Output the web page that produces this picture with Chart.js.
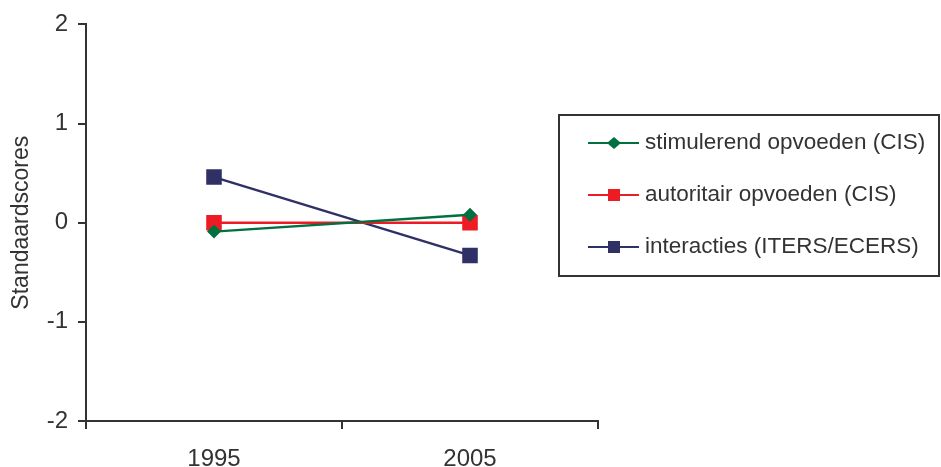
<!DOCTYPE html>
<html>
<head>
<meta charset="utf-8">
<script src="https://cdn.jsdelivr.net/npm/chart.js@4/dist/chart.umd.min.js"></script>
<style>
    html, body { margin: 0; padding: 0; background: #fff; }
    #wrap { width: 941px; height: 467px; position: relative; }
</style>
</head>
<body>
<div id="wrap"><canvas id="chart" width="941" height="467"></canvas></div>
<script>
// Standaardscores per jaar
const years = ['1995', '2005'];
const stimulerend = [-0.09, 0.08];
const autoritair = [0.0, 0.0];
const interacties = [0.46, -0.33];
const seriesLabels = ['stimulerend opvoeden (CIS)', 'autoritair opvoeden (CIS)', 'interacties (ITERS/ECERS)'];
const yTicks = [-2, -1, 0, 1, 2];

const AXIS_COLOR = '#333333';
const TEXT_COLOR = '#333333';
const FONT = '"Liberation Sans", Arial, Helvetica, sans-serif';

// boxed legend drawn at the right, outside the plot area
const boxLegend = {
    id: 'boxLegend',
    afterDraw(chart) {
        const ctx = chart.ctx;
        const box = { x: 559, y: 115, w: 380, h: 161 };
        ctx.save();
        ctx.strokeStyle = AXIS_COLOR;
        ctx.lineWidth = 2;
        ctx.strokeRect(box.x, box.y, box.w, box.h);
        ctx.font = '22.5px ' + FONT;
        ctx.textBaseline = 'middle';
        chart.data.datasets.forEach((ds, i) => {
            const y = 143 + i * 52;
            ctx.strokeStyle = ds.borderColor;
            ctx.lineWidth = 2;
            ctx.beginPath();
            ctx.moveTo(588, y);
            ctx.lineTo(639, y);
            ctx.stroke();
            ctx.fillStyle = ds.backgroundColor;
            ctx.beginPath();
            if (ds.pointStyle === 'rectRot') {
                ctx.moveTo(614, y - 6);
                ctx.lineTo(621, y);
                ctx.lineTo(614, y + 6);
                ctx.lineTo(607, y);
                ctx.closePath();
            } else {
                ctx.rect(608, y - 6, 12, 12);
            }
            ctx.fill();
            ctx.fillStyle = TEXT_COLOR;
            ctx.fillText(ds.label, 645, y);
        });
        ctx.restore();
    }
};

ready(() => {
    const ctx = document.getElementById('chart').getContext('2d');
    new Chart(ctx, {
        type: 'line',
        data: {
            labels: years,
            datasets: [
                {
                    label: seriesLabels[0],
                    data: stimulerend,
                    borderColor: '#007040',
                    backgroundColor: '#007040',
                    borderWidth: 2.5,
                    pointStyle: 'rectRot',
                    pointRadius: 7,
                    pointBorderWidth: 0
                },
                {
                    label: seriesLabels[1],
                    data: autoritair,
                    borderColor: '#ed1c24',
                    backgroundColor: '#ed1c24',
                    borderWidth: 2.5,
                    pointStyle: 'rect',
                    pointRadius: 11,
                    pointBorderWidth: 0
                },
                {
                    label: seriesLabels[2],
                    data: interacties,
                    borderColor: '#2f3066',
                    backgroundColor: '#2f3066',
                    borderWidth: 2.5,
                    pointStyle: 'rect',
                    pointRadius: 11,
                    pointBorderWidth: 0
                }
            ]
        },
        options: {
            responsive: false,
            animation: false,
            layout: { padding: { left: 0, top: 24, right: 343, bottom: 0 } },
            plugins: {
                legend: { display: false },
                tooltip: { enabled: false }
            },
            scales: {
                x: {
                    offset: true,
                    grid: {
                        offset: true,
                        drawOnChartArea: false,
                        drawTicks: true,
                        tickLength: 8,
                        color: AXIS_COLOR,
                        lineWidth: 2
                    },
                    border: { color: AXIS_COLOR, width: 2 },
                    ticks: {
                        color: TEXT_COLOR,
                        font: { family: FONT, size: 24 },
                        padding: 16,
                        maxRotation: 0
                    },
                    afterFit(scale) { scale.height = 46; }
                },
                y: {
                    min: -2,
                    max: 2,
                    afterBuildTicks(scale) {
                        scale.ticks = yTicks.map(v => ({ value: v }));
                    },
                    grid: {
                        drawOnChartArea: false,
                        drawTicks: true,
                        tickLength: 8,
                        color: AXIS_COLOR,
                        lineWidth: 2
                    },
                    border: { color: AXIS_COLOR, width: 2 },
                    ticks: {
                        color: TEXT_COLOR,
                        font: { family: FONT, size: 24 },
                        padding: 10
                    },
                    title: {
                        display: true,
                        text: 'Standaardscores',
                        color: TEXT_COLOR,
                        font: { family: FONT, size: 23 },
                        padding: { top: 8, bottom: 0 }
                    },
                    afterFit(scale) { scale.width = 86; }
                }
            }
        },
        plugins: [boxLegend]
    });
});

function ready(fn) {
    if (document.readyState !== 'loading') {
        fn();
    } else {
        document.addEventListener('DOMContentLoaded', fn);
    }
}
</script>
</body>
</html>
